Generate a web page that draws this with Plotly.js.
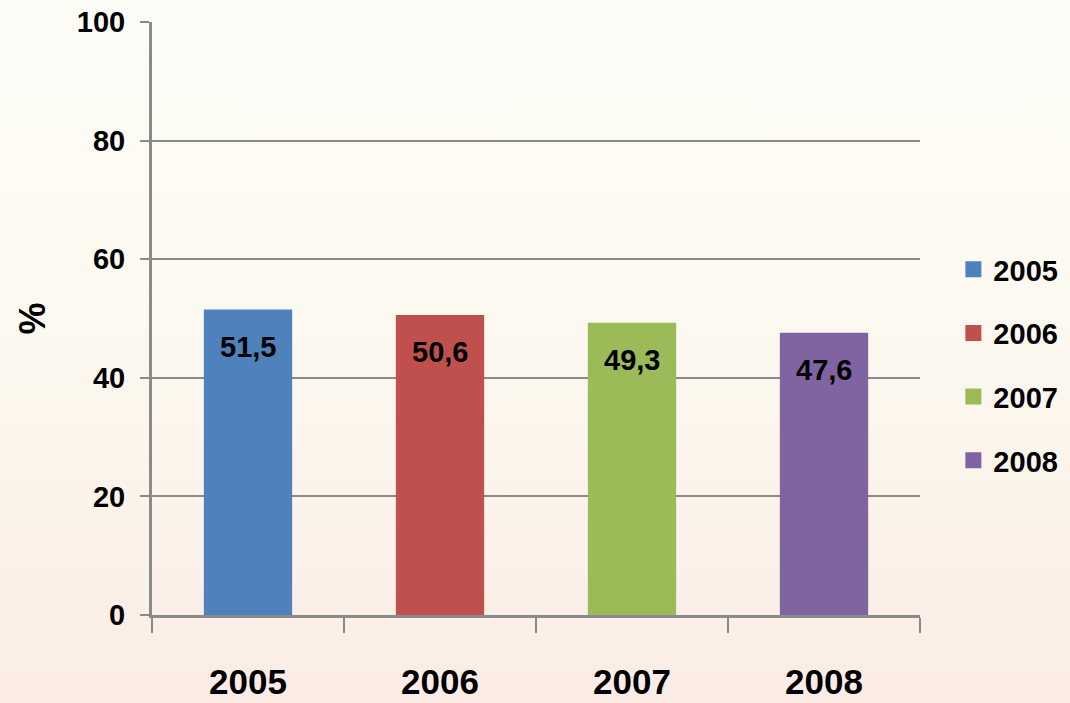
<!DOCTYPE html>
<html>
<head>
<meta charset="utf-8">
<script src="https://cdn.plot.ly/plotly-3.0.1.min.js"></script>
<style>
  html, body { margin: 0; padding: 0; }
  body { width: 1070px; height: 703px;
    background: linear-gradient(180deg, #fdfcf7 0%, #fcf9f0 45%, #fbf1e8 80%, #faece4 100%); }
  #chart { width: 1070px; height: 703px; }
</style>
</head>
<body>
<div id="chart"></div>
<script>
const categories = ["2005", "2006", "2007", "2008"];
const values = [51.5, 50.6, 49.3, 47.6];
const colors = ["#4f81bd", "#c0504d", "#9bbb59", "#8064a2"];
const yTicks = [0, 20, 40, 60, 80, 100];

const FONT = "'Liberation Sans', Arial, sans-serif";

const bars = categories.map((c, i) => ({
  type: "bar",
  x: [c],
  y: [values[i]],
  name: c,
  showlegend: false,
  marker: { color: colors[i] },
  width: 0.46,
  hoverinfo: "skip"
}));

const legendItems = categories.map((c, i) => ({
  type: "scatter", mode: "markers",
  x: [c], y: [null],
  name: c, legendgroup: c,
  marker: { color: colors[i], symbol: "square", size: 19 },
  hoverinfo: "skip"
}));

const annotations = categories.map((c, i) => ({
  x: i, y: values[i], xref: "x", yref: "y",
  text: values[i].toFixed(1).replace(".", ","),
  showarrow: false, yanchor: "top", yshift: -19,
  font: { family: FONT, size: 29, color: "#000", weight: "bold" }
}));

const layout = {
  width: 1070, height: 703,
  paper_bgcolor: "rgba(0,0,0,0)",
  plot_bgcolor: "rgba(0,0,0,0)",
  margin: { l: 152, r: 150, t: 22, b: 88, autoexpand: false },
  barmode: "overlay",
  showlegend: true,
  font: { family: FONT, color: "#000" },
  legend: {
    xref: "container", yref: "container",
    x: 0.891, xanchor: "left", y: 0.481, yanchor: "middle",
    traceorder: "grouped", tracegroupgap: 23,
    font: { family: FONT, size: 29, color: "#000", weight: "bold" },
    itemwidth: 30, bgcolor: "rgba(0,0,0,0)"
  },
  xaxis: {
    type: "category",
    range: [-0.5, 3.5],
    tickson: "boundaries",
    ticks: "outside", ticklen: 15, tickwidth: 2, tickcolor: "#8a8a8a",
    showline: true, linecolor: "#8a8a8a", linewidth: 3,
    showgrid: false,
    tickfont: { family: FONT, size: 35, color: "#000", weight: "bold" },
    ticklabelstandoff: 34
  },
  yaxis: {
    range: [0, 100],
    tickvals: yTicks,
    ticks: "outside", ticklen: 9, tickwidth: 2, tickcolor: "#8a8a8a",
    showline: true, linecolor: "#8a8a8a", linewidth: 3,
    showgrid: true, gridcolor: "#8a8a8a", gridwidth: 2,
    zeroline: false,
    tickfont: { family: FONT, size: 29, color: "#000", weight: "bold" },
    ticklabelstandoff: 9,
    title: { text: "%", font: { family: FONT, size: 36, color: "#000", weight: "bold" }, standoff: 21 }
  },
  annotations: annotations
};

Plotly.newPlot("chart", bars.concat(legendItems), layout, { displayModeBar: false, staticPlot: true });
</script>
</body>
</html>
